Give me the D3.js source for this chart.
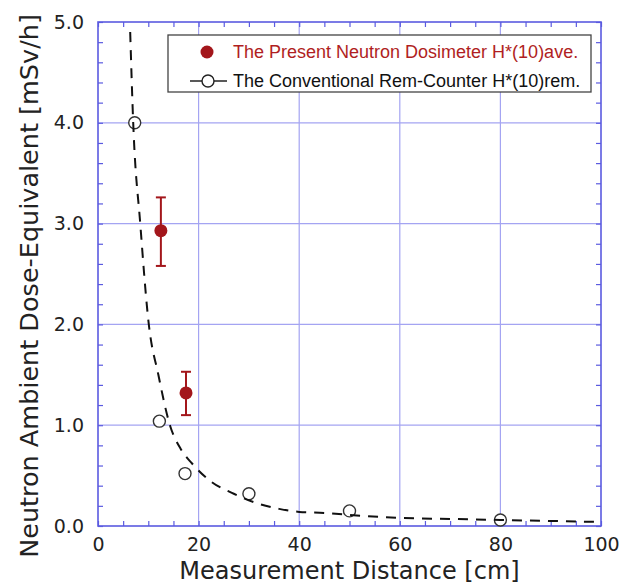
<!DOCTYPE html>
<html>
<head>
<meta charset="utf-8">
<script src="https://cdn.jsdelivr.net/npm/d3@7"></script>
<style>
    body { margin: 0; background: #fff; }
    svg { display: block; }
</style>
</head>
<body>
<svg id="svg" width="632" height="585"></svg>
<script>
// rem-counter measurements (open circles)
const remX = [7.3, 12.2, 17.3, 30, 50, 80];
const remY = [4.0, 1.04, 0.52, 0.32, 0.15, 0.06];

// present dosimeter (red, with error bars)
const aveX = [12.5, 17.5];
const aveY = [2.93, 1.32];
const aveLow = [2.58, 1.10];
const aveHigh = [3.26, 1.53];

// dashed curve
const fitX = [6.4, 7.0, 8.4, 10.1, 12.0, 14.3, 16.5, 18.7, 22.5, 27, 32, 36, 40, 45, 50, 60, 70, 80, 90, 100];
const fitY = [4.9, 4.0, 3.0, 2.0, 1.5, 1.0, 0.76, 0.62, 0.44, 0.32, 0.22, 0.17, 0.14, 0.13, 0.11, 0.08, 0.07, 0.06, 0.05, 0.04];

const xTicks = [0, 20, 40, 60, 80, 100];
const yTicks = [0, 1, 2, 3, 4, 5];
const xMinor = d3.range(0, 101, 5);
const yMinor = d3.range(0, 26).map(i => i * 0.2);

const legendLabels = ["The Present Neutron Dosimeter H*(10)ave.", "The Conventional Rem-Counter H*(10)rem."];
const xTitle = "Measurement Distance [cm]";
const yTitle = "Neutron Ambient Dose-Equivalent [mSv/h]";

const frameColor = "#5b5be0";
const gridColor = "#a4a4f2";
const red = "#a3161b";
const font = "'DejaVu Sans', sans-serif";

let svg = d3.select("#svg");
const plotLeft = 98, plotRight = 601, plotTop = 22, plotBottom = 526;

let xScale = d3.scaleLinear().domain([0, 100]).range([plotLeft, plotRight]);
let yScale = d3.scaleLinear().domain([0, 5]).range([plotBottom, plotTop]);

// grid
svg.append("g").selectAll("line").data(xTicks.slice(1, -1)).join("line")
    .attr("x1", d => xScale(d)).attr("x2", d => xScale(d))
    .attr("y1", plotTop).attr("y2", plotBottom)
    .attr("stroke", gridColor).attr("stroke-width", 1.2);
svg.append("g").selectAll("line").data(yTicks.slice(1, -1)).join("line")
    .attr("x1", plotLeft).attr("x2", plotRight)
    .attr("y1", d => yScale(d)).attr("y2", d => yScale(d))
    .attr("stroke", gridColor).attr("stroke-width", 1.2);

// minor ticks on all four sides, pointing in
function minorAxis(axis, tx, ty) {
    let g = svg.append("g")
        .attr("transform", `translate(${tx},${ty})`)
        .call(axis.tickSize(-5).tickFormat(""));
    g.select(".domain").remove();
    g.selectAll(".tick line").attr("stroke", frameColor).attr("stroke-width", 1.2);
}
minorAxis(d3.axisBottom(xScale).tickValues(xMinor), 0, plotBottom);
minorAxis(d3.axisTop(xScale).tickValues(xMinor), 0, plotTop);
minorAxis(d3.axisLeft(yScale).tickValues(yMinor), plotLeft, 0);
minorAxis(d3.axisRight(yScale).tickValues(yMinor), plotRight, 0);

// frame
svg.append("rect")
    .attr("x", plotLeft).attr("y", plotTop)
    .attr("width", plotRight - plotLeft).attr("height", plotBottom - plotTop)
    .attr("fill", "none").attr("stroke", frameColor).attr("stroke-width", 1.6);

// tick labels
let xAxis = svg.append("g")
    .attr("transform", `translate(0,${plotBottom})`)
    .call(d3.axisBottom(xScale).tickValues(xTicks).tickSize(0).tickPadding(12).tickFormat(d3.format("d")));
xAxis.select(".domain").remove();
xAxis.selectAll("text").style("font-family", font).style("font-size", "19px").attr("fill", "#222");

let yAxis = svg.append("g")
    .attr("transform", `translate(${plotLeft},0)`)
    .call(d3.axisLeft(yScale).tickValues(yTicks).tickSize(0).tickPadding(14).tickFormat(d3.format(".1f")));
yAxis.select(".domain").remove();
yAxis.selectAll("text").style("font-family", font).style("font-size", "19px").attr("fill", "#222");

// axis titles
svg.append("text")
    .attr("x", (plotLeft + plotRight) / 2).attr("y", 579)
    .attr("text-anchor", "middle")
    .style("font-family", font).style("font-size", "24px").attr("fill", "#222")
    .text(xTitle);
svg.append("text")
    .attr("transform", `translate(38,${(plotTop + plotBottom) / 2 + 12}) rotate(-90)`)
    .attr("text-anchor", "middle")
    .style("font-family", font).style("font-size", "25.5px").attr("fill", "#222")
    .text(yTitle);

// rem-counter open circles
let remData = remX.map((x, i) => ({ x: x, y: remY[i] }));
svg.append("g").selectAll("circle").data(remData).join("circle")
    .attr("cx", d => xScale(d.x)).attr("cy", d => yScale(d.y)).attr("r", 6)
    .attr("fill", "#fff").attr("stroke", "#333").attr("stroke-width", 1.4);

// dashed curve
let fitData = fitX.map((x, i) => ({ x: x, y: fitY[i] }));
svg.append("path")
    .datum(fitData)
    .attr("d", d3.line().x(d => xScale(d.x)).y(d => yScale(d.y)).curve(d3.curveMonotoneX))
    .attr("fill", "none").attr("stroke", "#111").attr("stroke-width", 2)
    .attr("stroke-dasharray", "10,8");

// present dosimeter with error bars
let aveData = aveX.map((x, i) => ({ x: x, y: aveY[i], lo: aveLow[i], hi: aveHigh[i] }));
let ave = svg.append("g").selectAll("g").data(aveData).join("g");
ave.append("line")
    .attr("x1", d => xScale(d.x)).attr("x2", d => xScale(d.x))
    .attr("y1", d => yScale(d.lo)).attr("y2", d => yScale(d.hi))
    .attr("stroke", red).attr("stroke-width", 2);
ave.selectAll(".cap").data(d => [{ x: d.x, v: d.lo }, { x: d.x, v: d.hi }]).join("line")
    .attr("class", "cap")
    .attr("x1", d => xScale(d.x) - 5).attr("x2", d => xScale(d.x) + 5)
    .attr("y1", d => yScale(d.v)).attr("y2", d => yScale(d.v))
    .attr("stroke", red).attr("stroke-width", 2);
ave.append("circle")
    .attr("cx", d => xScale(d.x)).attr("cy", d => yScale(d.y)).attr("r", 6.5)
    .attr("fill", red);

// legend
let legend = svg.append("g");
legend.append("rect")
    .attr("x", 168).attr("y", 35).attr("width", 423).attr("height", 57)
    .attr("fill", "#fff").attr("stroke", "#444").attr("stroke-width", 1.3);
legend.append("circle").attr("cx", 207).attr("cy", 52).attr("r", 6.5).attr("fill", red);
legend.append("line").attr("x1", 190).attr("x2", 227).attr("y1", 81).attr("y2", 81)
    .attr("stroke", "#222").attr("stroke-width", 1.5);
legend.append("circle").attr("cx", 208).attr("cy", 81).attr("r", 6)
    .attr("fill", "#fff").attr("stroke", "#222").attr("stroke-width", 1.4);
legend.selectAll(".lbl").data(legendLabels).join("text")
    .attr("class", "lbl")
    .attr("x", 233).attr("y", (d, i) => 58 + i * 29)
    .style("font-family", "'Liberation Sans', Arial, sans-serif").style("font-size", "18px")
    .attr("fill", (d, i) => i === 0 ? "#b01e22" : "#111")
    .text(d => d);
</script>
</body>
</html>
